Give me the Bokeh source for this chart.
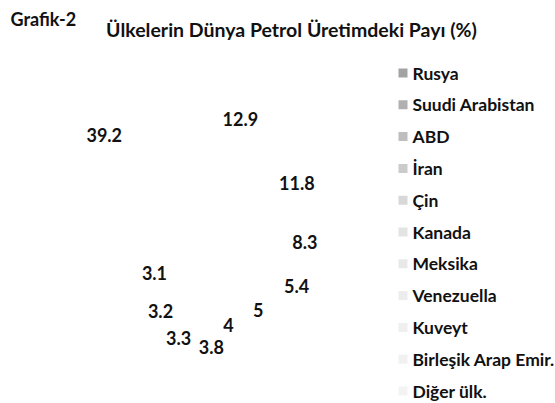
import math
from bokeh.plotting import figure
from bokeh.models import Range1d, ColumnDataSource
from bokeh.core.properties import value
from bokeh.embed import file_html
from bokeh.resources import INLINE

# ---- data ----
countries = ["Rusya", "Suudi Arabistan", "ABD", "İran", "Çin", "Kanada",
             "Meksika", "Venezuella", "Kuveyt", "Birleşik Arap Emir.", "Diğer ülk."]
shares = [12.9, 11.8, 8.3, 5.4, 5, 4, 3.8, 3.3, 3.2, 3.1, 39.2]
title = "Ülkelerin Dünya Petrol Üretimdeki Payı (%)"
tag = "Grafik-2"

# ---- style / layout ----
swatch_colors = ["#a3a3a3", "#b0b0b0", "#bebebe", "#cbcbcb", "#d8d8d8", "#e3e3e3",
                 "#e8e8e8", "#ececec", "#efefef", "#f1f1f1", "#f3f3f3"]
label_r = [111, 104, 106, 115, 105, 106, 125, 118, 97, 68, 130]
label_shift = [-2.2, 0.2, -3.5, -5.2, -0.6, 1.2, -2.5, 0.4, 2.4, 9.3, 22.8]
FONT = "Lato"
W, H = 555, 403
cx, cy, R = 200, 222, 95

p = figure(width=W, height=H, output_backend="svg", toolbar_location=None,
           x_range=Range1d(0, W), y_range=Range1d(H, 0), min_border=0)
p.axis.visible = False
p.grid.visible = False
p.outline_line_color = None
p.background_fill_color = "white"
p.border_fill_color = "white"

total = sum(shares)
starts, ends, mids = [], [], []
acc = 0.0
for s in shares:
    a0 = acc / total * 360.0
    acc += s
    a1 = acc / total * 360.0
    starts.append(a0)
    ends.append(a1)
    mids.append((a0 + a1) / 2)

# pie slices (white, as in the reference)
ws = ColumnDataSource(dict(
    start=[math.radians(a - 90) for a in starts],
    end=[math.radians(a - 90) for a in ends],
))
p.wedge(x=cx, y=cy, radius=R, start_angle="start", end_angle="end",
        source=ws, fill_color="white", line_color=None, direction="anticlock")

# data labels
lx, ly, lt = [], [], []
for s, m, r, sh in zip(shares, mids, label_r, label_shift):
    ang = math.radians(m + sh)
    lx.append(cx + r * math.sin(ang))
    ly.append(cy - r * math.cos(ang))
    lt.append(f"{s:g}")
p.text(x=lx, y=ly, text=lt, text_font=value(FONT), text_font_style="bold",
       text_font_size="18px", text_align="center", text_baseline="middle",
       text_color="#111111")

# legend
n = len(countries)
ry = [72.5 + 31.8 * i for i in range(n)]
p.rect(x=[402.5] * n, y=ry, width=9, height=9, fill_color=swatch_colors,
       line_color=None)
p.text(x=[412] * n, y=ry, text=countries, text_font=value(FONT),
       text_font_style="bold", text_font_size="17.5px", text_align="left",
       text_baseline="middle", text_color="#111111")

# titles
p.text(x=[291], y=[29], text=[title], text_font=value(FONT), text_font_style="bold",
       text_font_size="19.5px", text_align="center", text_baseline="middle",
       text_color="#111111")
p.text(x=[10], y=[18], text=[tag], text_font=value(FONT), text_font_style="bold",
       text_font_size="18px", text_align="left", text_baseline="middle",
       text_color="#111111")

open("out.html", "w").write(file_html(p, INLINE))
